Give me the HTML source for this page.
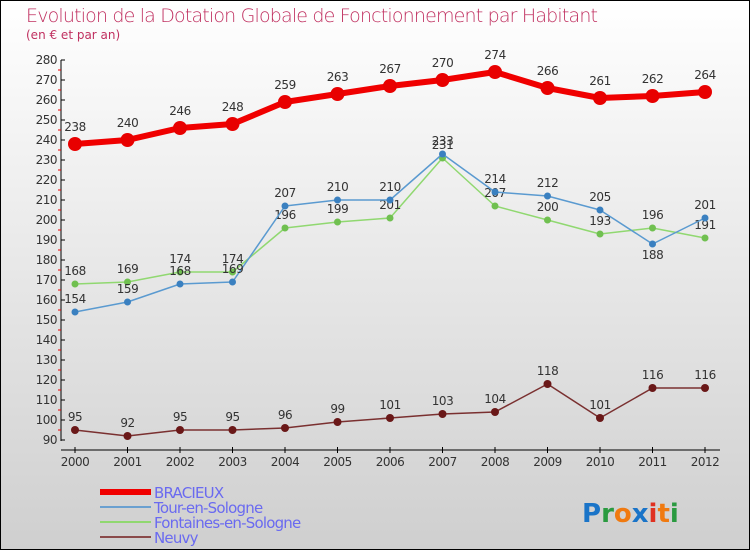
<!DOCTYPE html>
<html><head><meta charset="utf-8"><style>
body{margin:0}
#c{width:750px;height:550px;position:relative;box-sizing:border-box;border:1px solid #000;background:linear-gradient(#fff,#cfcfcf);overflow:hidden;font-family:"DejaVu Sans","Liberation Sans",sans-serif}
</style></head><body>
<div id="c">
<svg id="s" width="750" height="550" style="position:absolute;left:-1px;top:-1px">
<text x="26" y="22" font-size="19" fill="#c03060" font-family="DejaVu Sans" style="font-weight:200" textLength="572">Evolution de la Dotation Globale de Fonctionnement par Habitant</text>
<text x="26" y="39" font-size="12" fill="#c03060">(en € et par an)</text>
<g id="ax"></g><g id="ser"></g><g id="leg"></g>
<text x="582" y="522" font-size="26" font-family="DejaVu Sans" font-weight="bold"><tspan fill="#1a74c8">P</tspan><tspan fill="#2a9a40">r</tspan><tspan fill="#f07a10">o</tspan><tspan fill="#1a74c8">x</tspan><tspan fill="#e03020">i</tspan><tspan fill="#f07a10">t</tspan><tspan fill="#2a9a40">i</tspan></text>
</svg></div>
<script>
const years=[2000,2001,2002,2003,2004,2005,2006,2007,2008,2009,2010,2011,2012];
const bracieux=[238,240,246,248,259,263,267,270,274,266,261,262,264];
const tour=[154,159,168,169,207,210,210,233,214,212,205,188,201];
const fontaines=[168,169,174,174,196,199,201,231,207,200,193,196,191];
const neuvy=[95,92,95,95,96,99,101,103,104,118,101,116,116];
const yTicks=[90,100,110,120,130,140,150,160,170,180,190,200,210,220,230,240,250,260,270,280];
const NS='http://www.w3.org/2000/svg';
const X=i=>75+i*52.5, Y=v=>440-(v-90)*2;
function mk(p,t,a,txt){const e=document.createElementNS(NS,t);for(const k in a)e.setAttribute(k,a[k]);if(txt!==undefined)e.textContent=txt;p.appendChild(e);return e;}
const ax=document.getElementById('ax');
let e=mk(ax,'line',{x1:61,y1:60,x2:61,y2:441,stroke:'#000'});

e=mk(ax,'line',{x1:61,y1:450,x2:720,y2:450,stroke:'#000'});

yTicks.forEach((v,i)=>{mk(ax,'line',{x1:61,y1:Y(v),x2:65,y2:Y(v),stroke:'#000'});
if(i<yTicks.length-1)mk(ax,'line',{x1:58,y1:Y(v+5),x2:61,y2:Y(v+5),stroke:'#e00'});
e=mk(ax,'text',{x:57,y:Y(v)+4,'font-size':12,fill:'#333','text-anchor':'end','letter-spacing':'-0.5'},v);
});
years.forEach((y,i)=>{mk(ax,'line',{x1:X(i),y1:447,x2:X(i),y2:453,stroke:'#000'});
e=mk(ax,'text',{x:X(i),y:466,'font-size':12,fill:'#333','text-anchor':'middle','letter-spacing':'-0.5'},y);
});
const ser=document.getElementById('ser');
function draw(name,vals,col,pcol,w,r,lab){const g=mk(ser,'g',{});

mk(g,'polyline',{points:vals.map((v,i)=>X(i)+','+Y(v)).join(' '),fill:'none',stroke:col,'stroke-width':w,'stroke-linejoin':'round'});
vals.forEach((v,i)=>{const c=mk(g,'circle',{cx:X(i),cy:Y(v),r:r,fill:pcol});

const dy=lab(i);const t=mk(g,'text',{x:X(i),y:Y(v)+dy,'font-size':12,fill:'#333','text-anchor':'middle','letter-spacing':'-0.5'},v);
});}
draw('neuvy',neuvy,'#7a3030','#6a1818',1.5,4,i=>-9);
draw('fontaines',fontaines,'#90d870','#70c050',1.5,3.5,i=>-9);
draw('tour',tour,'#5a9ad0','#3a80c0',1.5,3.5,i=>i==11?15:-9);
draw('bracieux',bracieux,'#f00000','#e80000',6,7,i=>-13);
const leg=document.getElementById('leg');
[['BRACIEUX','#f00000',6],['Tour-en-Sologne','#6aa0d0',2],['Fontaines-en-Sologne','#90d870',2],['Neuvy','#8a4a4a',2]].forEach((d,i)=>{
const y=492+i*15;const g=mk(leg,'g',{});

mk(g,'line',{x1:100,y1:y,x2:151,y2:y,stroke:d[1],'stroke-width':d[2]});
mk(g,'text',{x:154,y:y+6,'font-size':15,fill:'#6a6af0','letter-spacing':'-0.8'},d[0]);});
</script></body></html>
